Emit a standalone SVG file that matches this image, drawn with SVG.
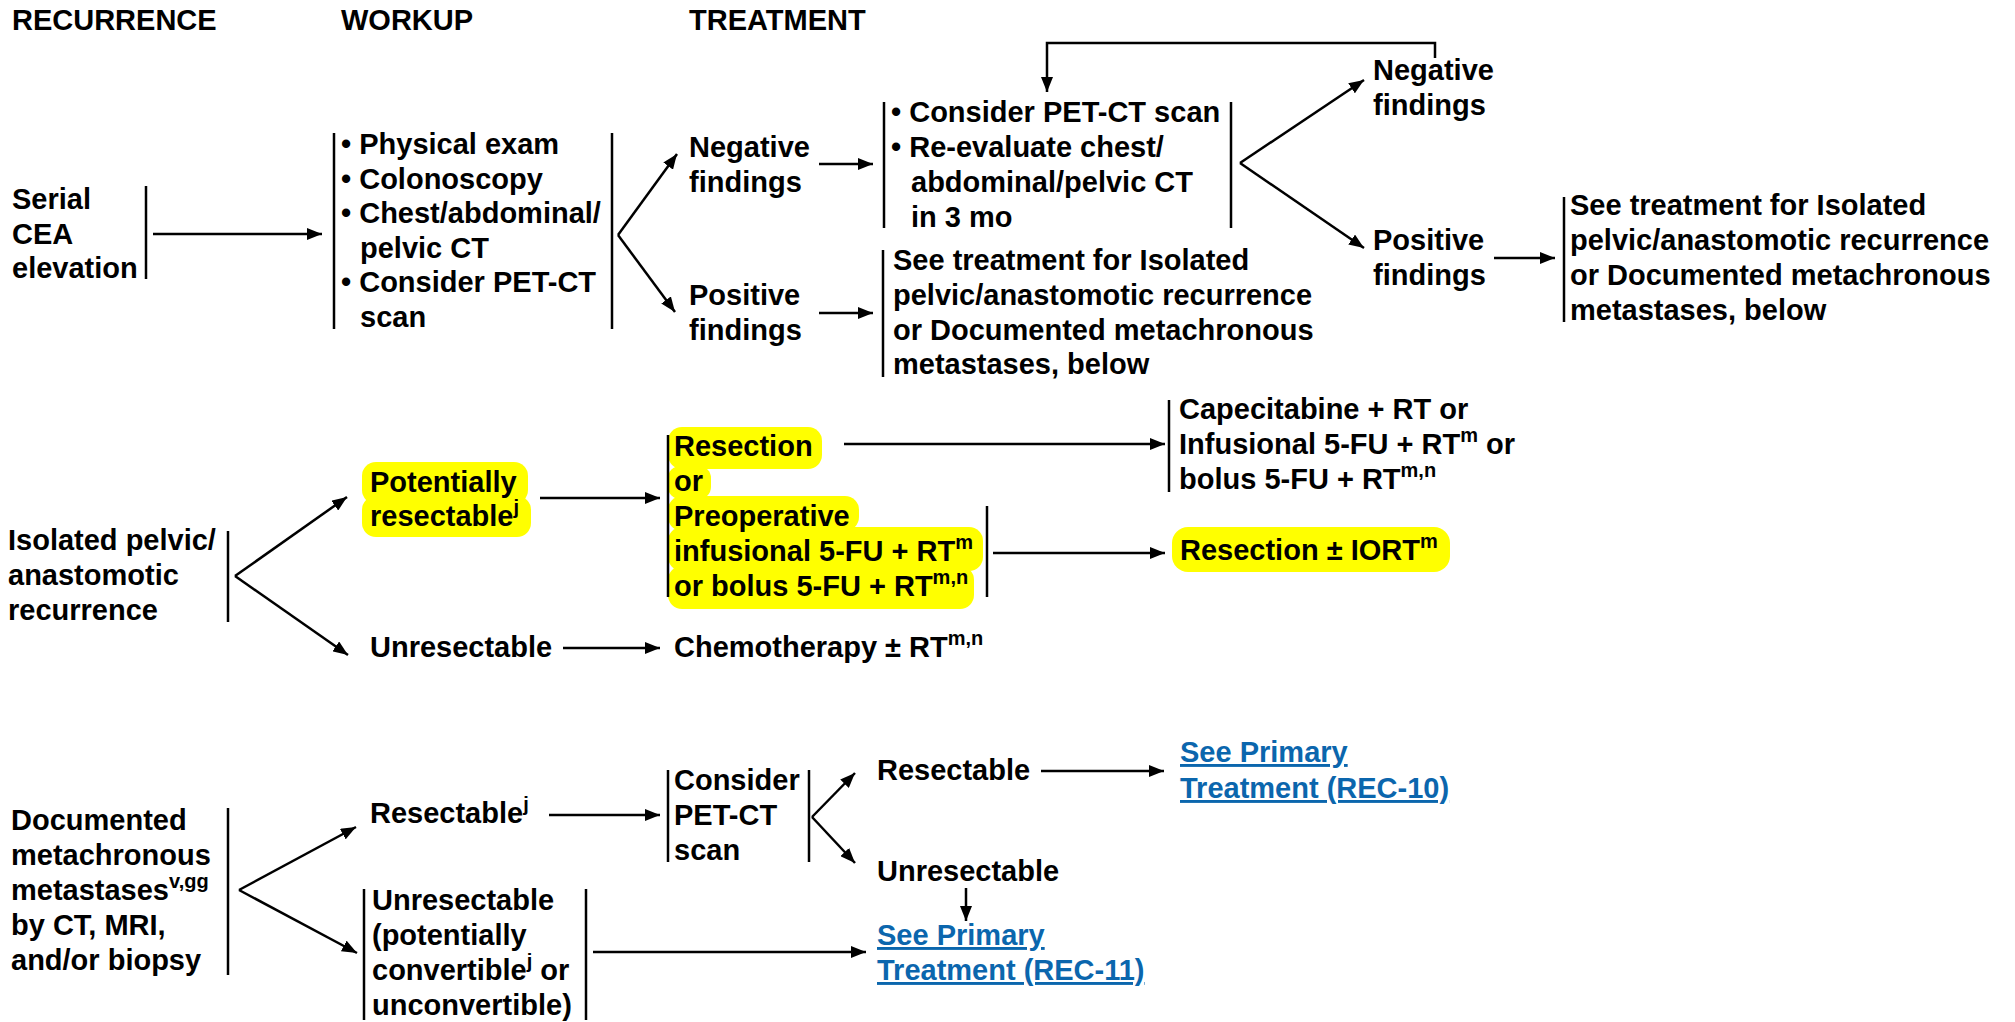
<svg xmlns="http://www.w3.org/2000/svg" width="2015" height="1022" viewBox="0 0 2015 1022">
<defs>
<marker id="ah" markerUnits="userSpaceOnUse" markerWidth="16" markerHeight="12" refX="15" refY="6" orient="auto">
<path d="M0,0 L15,6 L0,12 z" fill="#000"/>
</marker>
<style>
.t{font-family:"Liberation Sans",Arial,Helvetica,sans-serif;font-size:29px;font-weight:bold;fill:#000}
.s{font-size:20px}
.bar{stroke:#000;stroke-width:2.5;fill:none}
.ln{stroke:#000;stroke-width:2.5;fill:none}
.ar{stroke:#000;stroke-width:2.5;fill:none;marker-end:url(#ah)}
.hl{fill:#ffff00}
.lk{fill:#0b66ad;text-decoration:underline}
</style>
</defs>
<rect width="2015" height="1022" fill="#fff"/>

<g id="headers">
<text class="t" x="12" y="30">RECURRENCE</text>
<text class="t" x="341" y="30">WORKUP</text>
<text class="t" x="689" y="30">TREATMENT</text>
</g>

<!-- Row 1 -->
<g id="serial-cea">
<text class="t"><tspan x="12" y="209">Serial</tspan><tspan x="12" y="243.5">CEA</tspan><tspan x="12" y="278">elevation</tspan></text>
<line class="bar" x1="146" y1="186" x2="146" y2="279"/>
</g>
<g id="workup">
<line class="bar" x1="334" y1="133" x2="334" y2="329"/>
<text class="t"><tspan x="341" y="154">• Physical exam</tspan><tspan x="341" y="188.5">• Colonoscopy</tspan><tspan x="341" y="223">• Chest/abdominal/</tspan><tspan x="360" y="257.5">pelvic CT</tspan><tspan x="341" y="292">• Consider PET-CT</tspan><tspan x="360" y="326.5">scan</tspan></text>
<line class="bar" x1="612" y1="133" x2="612" y2="329"/>
</g>
<g id="neg1">
<text class="t"><tspan x="689" y="157">Negative</tspan><tspan x="689" y="192">findings</tspan></text>
</g>
<g id="pos1">
<text class="t"><tspan x="689" y="305">Positive</tspan><tspan x="689" y="340">findings</tspan></text>
</g>
<g id="reeval">
<line class="bar" x1="884" y1="102" x2="884" y2="228"/>
<text class="t"><tspan x="891" y="122">• Consider PET-CT scan</tspan><tspan x="891" y="157">• Re-evaluate chest/</tspan><tspan x="911" y="192">abdominal/pelvic CT</tspan><tspan x="911" y="227">in 3 mo</tspan></text>
<line class="bar" x1="1231" y1="102" x2="1231" y2="228"/>
</g>
<g id="seetx1">
<line class="bar" x1="883" y1="250" x2="883" y2="377"/>
<text class="t"><tspan x="893" y="270">See treatment for Isolated</tspan><tspan x="893" y="305">pelvic/anastomotic recurrence</tspan><tspan x="893" y="340">or Documented metachronous</tspan><tspan x="893" y="374">metastases, below</tspan></text>
</g>
<g id="neg2">
<text class="t"><tspan x="1373" y="80">Negative</tspan><tspan x="1373" y="115">findings</tspan></text>
</g>
<g id="pos2">
<text class="t"><tspan x="1373" y="250">Positive</tspan><tspan x="1373" y="285">findings</tspan></text>
</g>
<g id="seetx2">
<line class="bar" x1="1564" y1="197" x2="1564" y2="322"/>
<text class="t"><tspan x="1570" y="215">See treatment for Isolated</tspan><tspan x="1570" y="250">pelvic/anastomotic recurrence</tspan><tspan x="1570" y="285">or Documented metachronous</tspan><tspan x="1570" y="320">metastases, below</tspan></text>
</g>

<!-- Row 2 -->
<g id="isolated">
<text class="t"><tspan x="8" y="550">Isolated pelvic/</tspan><tspan x="8" y="585">anastomotic</tspan><tspan x="8" y="620">recurrence</tspan></text>
<line class="bar" x1="228" y1="531" x2="228" y2="622"/>
</g>
<g id="potentially">
<rect class="hl" x="362" y="462" width="166" height="42" rx="14"/>
<rect class="hl" x="362" y="496" width="169" height="41" rx="14"/>
<text class="t"><tspan x="370" y="492">Potentially</tspan><tspan x="370" y="526">resectable</tspan><tspan class="s" dy="-12">j</tspan></text>
</g>
<g id="unres1">
<text class="t" x="370" y="657">Unresectable</text>
</g>
<g id="resection-or">
<rect class="hl" x="668" y="427" width="154" height="42" rx="14"/>
<rect class="hl" x="668" y="466" width="43" height="33" rx="12"/>
<rect class="hl" x="668" y="496" width="191" height="35" rx="14"/>
<rect class="hl" x="668" y="527" width="315" height="44" rx="14"/>
<rect class="hl" x="668" y="566" width="306" height="43" rx="14"/>
<line class="bar" x1="668" y1="435" x2="668" y2="597"/>
<text class="t"><tspan x="674" y="456">Resection</tspan><tspan x="674" y="491">or</tspan><tspan x="674" y="526">Preoperative</tspan><tspan x="674" y="561">infusional 5-FU + RT</tspan><tspan class="s" dy="-12">m</tspan><tspan x="674" y="596">or bolus 5-FU + RT</tspan><tspan class="s" dy="-12">m,n</tspan></text>
<line class="bar" x1="987" y1="506" x2="987" y2="597"/>
</g>
<g id="capecitabine">
<line class="bar" x1="1169" y1="400" x2="1169" y2="492"/>
<text class="t"><tspan x="1179" y="419">Capecitabine + RT or</tspan><tspan x="1179" y="454">Infusional 5-FU + RT</tspan><tspan class="s" dy="-12">m</tspan><tspan dy="12"> or</tspan><tspan x="1179" y="489">bolus 5-FU + RT</tspan><tspan class="s" dy="-12">m,n</tspan></text>
</g>
<g id="resection-iort">
<rect class="hl" x="1172" y="527" width="278" height="45" rx="16"/>
<text class="t" x="1180" y="560">Resection ± IORT<tspan class="s" dy="-12">m</tspan></text>
</g>
<g id="chemo">
<text class="t" x="674" y="657">Chemotherapy ± RT<tspan class="s" dy="-12">m,n</tspan></text>
</g>

<!-- Row 3 -->
<g id="documented">
<text class="t"><tspan x="11" y="830">Documented</tspan><tspan x="11" y="865">metachronous</tspan><tspan x="11" y="900">metastases</tspan><tspan class="s" dy="-12">v,gg</tspan><tspan x="11" y="935">by CT, MRI,</tspan><tspan x="11" y="970">and/or biopsy</tspan></text>
<line class="bar" x1="228" y1="808" x2="228" y2="975"/>
</g>
<g id="resectable">
<text class="t" x="370" y="823">Resectable<tspan class="s" dy="-12">j</tspan></text>
</g>
<g id="unres-conv">
<line class="bar" x1="364" y1="889" x2="364" y2="1020"/>
<text class="t"><tspan x="372" y="910">Unresectable</tspan><tspan x="372" y="945">(potentially</tspan><tspan x="372" y="980">convertible</tspan><tspan class="s" dy="-12">j</tspan><tspan dy="12"> or</tspan><tspan x="372" y="1015">unconvertible)</tspan></text>
<line class="bar" x1="586" y1="889" x2="586" y2="1020"/>
</g>
<g id="consider-pet">
<line class="bar" x1="668" y1="770" x2="668" y2="862"/>
<text class="t"><tspan x="674" y="790">Consider</tspan><tspan x="674" y="825">PET-CT</tspan><tspan x="674" y="860">scan</tspan></text>
<line class="bar" x1="809" y1="770" x2="809" y2="862"/>
</g>
<g id="resectable2">
<text class="t" x="877" y="780">Resectable</text>
</g>
<g id="unres2">
<text class="t" x="877" y="881">Unresectable</text>
</g>
<g id="rec10">
<text class="t lk"><tspan x="1180" y="762">See Primary</tspan><tspan x="1180" y="798">Treatment (REC-10)</tspan></text>
</g>
<g id="rec11">
<text class="t lk"><tspan x="877" y="945">See Primary</tspan><tspan x="877" y="980">Treatment (REC-11)</tspan></text>
</g>

<g id="connectors">
<line class="ar" x1="153" y1="234" x2="322" y2="234"/>
<line class="ar" x1="618" y1="235" x2="677" y2="154"/>
<line class="ar" x1="618" y1="235" x2="675" y2="312"/>
<line class="ar" x1="819" y1="164" x2="873" y2="164"/>
<line class="ar" x1="819" y1="313" x2="873" y2="313"/>
<polyline class="ar" points="1435,58 1435,43 1047,43 1047,92"/>
<line class="ar" x1="1240" y1="163" x2="1364" y2="80"/>
<line class="ar" x1="1240" y1="163" x2="1364" y2="248"/>
<line class="ar" x1="1494" y1="258" x2="1555" y2="258"/>

<line class="ar" x1="235" y1="576" x2="347" y2="497"/>
<line class="ar" x1="235" y1="576" x2="348" y2="655"/>
<line class="ar" x1="540" y1="498" x2="660" y2="498"/>
<line class="ar" x1="563" y1="648" x2="660" y2="648"/>
<line class="ar" x1="844" y1="444" x2="1165" y2="444"/>
<line class="ar" x1="993" y1="553" x2="1165" y2="553"/>

<line class="ar" x1="239" y1="890" x2="356" y2="827"/>
<line class="ar" x1="239" y1="890" x2="357" y2="953"/>
<line class="ar" x1="549" y1="815" x2="660" y2="815"/>
<line class="ar" x1="593" y1="952" x2="866" y2="952"/>
<line class="ar" x1="812" y1="817" x2="855" y2="773"/>
<line class="ar" x1="812" y1="817" x2="855" y2="863"/>
<line class="ar" x1="1041" y1="771" x2="1164" y2="771"/>
<line class="ar" x1="966" y1="888" x2="966" y2="921"/>
</g>
</svg>
